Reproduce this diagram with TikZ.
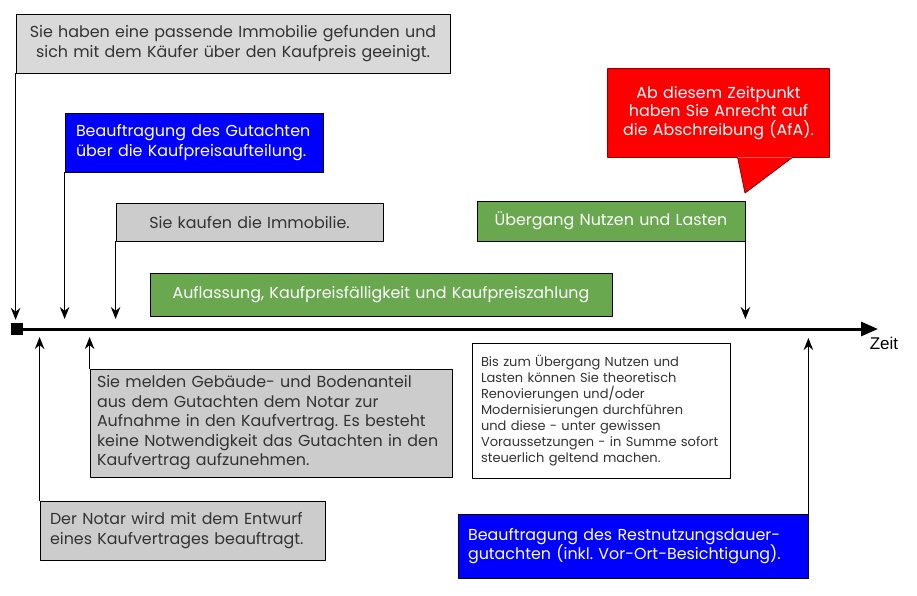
\documentclass[tikz,border=0pt]{standalone}
\usepackage{fontspec}
\setmainfont{Poppins}
\newfontfamily\zeitfont{Liberation Sans}
\usetikzlibrary{arrows.meta}
\definecolor{grauA}{HTML}{D9D9D9}
\definecolor{grauB}{HTML}{CCCCCC}
\definecolor{gruen}{HTML}{6AA84F}
\definecolor{blau}{HTML}{0000FF}
\definecolor{rot}{HTML}{FF0000}
\frenchspacing
\begin{document}
\begin{tikzpicture}[x=1pt, y=-1pt, line join=round,
	box/.style={draw=black, line width=.8pt, inner xsep=10pt, inner ysep=0pt, text=black!80, font=\fontsize{15.9}{19.5}\selectfont},
	pfeil/.style={line width=1.3pt, -{Stealth[length=12pt,width=9.5pt]}}]
	\useasboundingbox (0,0) rectangle (917,595);
	\coordinate (achse) at (0,329);
	\coordinate (ende) at (878,329);
	\coordinate (spitze) at (745,193);
	% Zeitachse
	\node[fill=black, minimum size=12pt, inner sep=0pt] (start) at (17,329) {};
	\draw[line width=3pt, -{Triangle[length=17pt,width=14pt]}] (start.east) -- (ende);
	\node[font=\zeitfont\fontsize{17}{20}\selectfont, anchor=north] (zeit) at (884,334) {Zeit};
	% oben
	\node[box, fill=grauA, minimum width=434pt, minimum height=59pt, text width=414pt, align=center] (gefunden) at (233,43.5) {Sie haben eine passende Immobilie gefunden und\\ sich mit dem Käufer über den Kaufpreis geeinigt.};
	\node[box, fill=blau, text=white, minimum width=258pt, minimum height=59pt, text width=236pt, inner xsep=11pt, align=left] (gutachten) at (194,142.5) {Beauftragung des Gutachten\\ über die Kaufpreisaufteilung.};
	\node[box, fill=grauB, minimum width=267pt, minimum height=38pt, text width=247pt, align=center] (kaufen) at (249.5,222) {Sie kaufen die Immobilie.};
	\node[box, fill=gruen, text=white, minimum width=462pt, minimum height=43pt, text width=442pt, align=center] (auflassung) at (381,294.5) {Auflassung, Kaufpreisfälligkeit und Kaufpreiszahlung};
	\node[box, fill=gruen, text=white, minimum width=268pt, minimum height=40pt, text width=248pt, align=center] (uebergang) at (611,221) {Übergang Nutzen und Lasten};
	\node[box, draw=none, fill=rot, text=white, minimum width=221pt, minimum height=88pt, text width=201pt, align=center, font=\fontsize{15.9}{18.5}\selectfont] (afa) at (718.5,113) {Ab diesem Zeitpunkt\\ haben Sie Anrecht auf\\ die Abschreibung (AfA).};
	\fill[rot] ([xshift=-37pt]afa.south east) -- (spitze) -- ([xshift=130pt]afa.south west) -- cycle;
	\draw[rot!55!black, line width=.8pt] (afa.north west) -- (afa.north east) -- (afa.south east) -- ([xshift=-37pt]afa.south east) -- (spitze) -- ([xshift=130pt]afa.south west) -- (afa.south west) -- cycle;
	% unten
	\node[box, fill=grauB, minimum width=362pt, minimum height=108pt, text width=348pt, inner xsep=7pt, align=left] (melden) at (271,423) {Sie melden Gebäude- und Bodenanteil\\ aus dem Gutachten dem Notar zur\\ Aufnahme in den Kaufvertrag. Es besteht\\ keine Notwendigkeit das Gutachten in den\\ Kaufvertrag aufzunehmen.};
	\node[box, fill=grauB, minimum width=285pt, minimum height=59pt, text width=265pt, align=left] (notar) at (182.5,530.5) {Der Notar wird mit dem Entwurf\\ eines Kaufvertrages beauftragt.};
	\node[box, fill=white, minimum width=258pt, minimum height=135pt, text width=240pt, inner xsep=9pt, align=left, font=\fontsize{13}{16}\selectfont] (renov) at (601,410.5) {Bis zum Übergang Nutzen und\\ Lasten können Sie theoretisch\\ Renovierungen und/oder\\ Modernisierungen durchführen\\ und diese - unter gewissen\\ Voraussetzungen - in Summe sofort\\ steuerlich geltend machen.};
	\node[box, fill=blau, text=white, minimum width=350pt, minimum height=64pt, text width=330pt, inner xsep=10pt, align=left] (restnd) at (633,546) {Beauftragung des Restnutzungsdauer-\\ gutachten (inkl. Vor-Ort-Besichtigung).};
	% Pfeile
	\draw[pfeil, shorten >=3pt] (gefunden.south west) -- (gefunden.south west |- start.north);
	\foreach \n in {gutachten,kaufen}
		\draw[pfeil, shorten >=10pt] (\n.south west) -- (\n.south west |- achse);
	\draw[pfeil, shorten >=10pt] (uebergang.south east) -- (uebergang.south east |- achse);
	\foreach \n in {melden,notar}
		\draw[pfeil, shorten >=8pt] (\n.north west) -- (\n.north west |- achse);
	\draw[pfeil, shorten >=9pt] (restnd.north east) -- (restnd.north east |- achse);
\end{tikzpicture}
\end{document}
